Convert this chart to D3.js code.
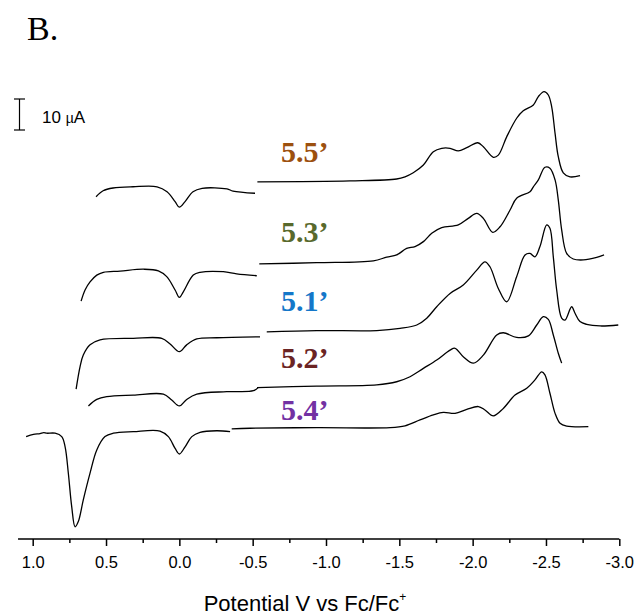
<!DOCTYPE html>
<html>
<head>
<meta charset="utf-8">
<script src="https://cdn.jsdelivr.net/npm/d3@7/dist/d3.min.js"></script>
<style>
  html, body { margin: 0; padding: 0; background: #fff; }
  svg { display: block; }
</style>
</head>
<body>
<svg id="chart" width="637" height="616"></svg>
<script>
// Differential pulse voltammograms, potential (V vs Fc/Fc+) against current (µA).
// Each trace is recorded as two scans: anodic side (left) and cathodic side (right).

const compounds = ["5.5’", "5.3’", "5.1’", "5.2’", "5.4’"];
const labelColors = ["#9c500f", "#58692c", "#1477c9", "#6b2424", "#7331a3"];
// vertical stacking offset of each trace, µA
const offsets = [122.5, 96, 74, 56, 42.5];

const majorTicks = [1.0, 0.5, 0.0, -0.5, -1.0, -1.5, -2.0, -2.5, -3.0];
const majorTickLabels = ["1.0", "0.5", "0.0", "-0.5", "-1.0", "-1.5", "-2.0", "-2.5", "-3.0"];
const minorTicks = [0.75, 0.25, -0.25, -0.75, -1.25, -1.75, -2.25, -2.75];
const scaleBarValue = 10; // µA

// [potential V, current µA] pairs
const t55Left = [[0.568,-5.3],[0.520,-3.4],[0.452,-2.5],[0.316,-2.1],[0.152,-2.1],[0.084,-3.7],[0.029,-6.9],[0.0,-8.7],[-0.039,-6.9],[-0.093,-3.7],[-0.155,-2.6],[-0.325,-2.8],[-0.366,-3.5],[-0.516,-4.2]];
const t55Right = [[-0.532,-0.5],[-1.164,-0.2],[-1.482,0.4],[-1.539,1.1],[-1.595,2.4],[-1.664,4.9],[-1.732,9.2],[-1.789,10.3],[-1.846,10.3],[-1.902,9.5],[-1.960,10.5],[-2.035,12.1],[-2.073,10.8],[-2.141,7.4],[-2.175,8.1],[-2.232,14.0],[-2.300,20.0],[-2.345,22.4],[-2.414,24.3],[-2.448,27.0],[-2.487,28.6],[-2.516,27.5],[-2.539,23.7],[-2.562,15.1],[-2.584,7.6],[-2.618,2.4],[-2.664,1.1],[-2.732,1.5]];

const t53Left = [[0.670,-12.5],[0.643,-8.9],[0.609,-6.3],[0.563,-4.1],[0.518,-3.2],[0.404,-2.8],[0.245,-2.2],[0.143,-2.7],[0.086,-4.6],[0.029,-8.9],[0.0,-11.3],[-0.027,-9.5],[-0.095,-4.1],[-0.141,-3.2],[-0.300,-3.0],[-0.391,-3.7],[-0.528,-4.3]];
const t53Right = [[-0.545,-0.5],[-0.937,-0.1],[-1.323,0.5],[-1.414,1.7],[-1.482,2.4],[-1.550,4.5],[-1.607,5.1],[-1.664,6.7],[-1.721,9.4],[-1.789,11.2],[-1.902,12.1],[-1.970,14.2],[-2.028,15.8],[-2.073,14.2],[-2.137,9.7],[-2.187,11.5],[-2.255,16.9],[-2.300,20.7],[-2.391,22.8],[-2.414,24.4],[-2.448,26.6],[-2.493,30.7],[-2.527,30.4],[-2.562,26.6],[-2.584,20.1],[-2.607,10.5],[-2.641,2.9],[-2.686,1.1],[-2.755,0.8],[-2.846,1.6],[-2.896,2.4]];

const t51Left = [[0.704,-18.9],[0.677,-11.6],[0.655,-7.9],[0.609,-4.6],[0.541,-3.0],[0.314,-2.5],[0.120,-2.5],[0.063,-4.3],[0.0,-6.8],[-0.050,-4.6],[-0.119,-2.7],[-0.255,-2.3],[-0.550,-2.0]];
const t51Right = [[-0.596,-0.4],[-0.937,0.0],[-1.346,0.0],[-1.505,0.7],[-1.619,1.8],[-1.687,4.0],[-1.755,7.7],[-1.846,12.0],[-1.936,14.7],[-2.028,19.5],[-2.084,22.2],[-2.118,20.6],[-2.175,13.6],[-2.232,9.3],[-2.300,17.4],[-2.357,24.4],[-2.391,24.9],[-2.425,23.8],[-2.459,27.1],[-2.505,34.1],[-2.527,33.0],[-2.550,23.8],[-2.573,13.1],[-2.607,4.0],[-2.630,3.4],[-2.675,7.7],[-2.698,5.6],[-2.732,2.9],[-2.778,2.0],[-2.869,1.5],[-2.993,1.8]];

const t52Left = [[0.620,-6.3],[0.563,-4.2],[0.495,-3.3],[0.314,-2.8],[0.109,-2.5],[0.052,-4.4],[0.0,-6.3],[-0.050,-4.2],[-0.119,-2.5],[-0.323,-1.7],[-0.505,-1.4],[-0.539,-0.3]];
const t52Right = [[-0.530,-0.4],[-0.937,0.1],[-1.346,0.5],[-1.482,1.5],[-1.573,3.1],[-1.664,5.8],[-1.755,8.5],[-1.846,11.7],[-1.880,12.3],[-1.936,9.6],[-2.005,7.5],[-2.073,10.1],[-2.164,16.6],[-2.209,17.3],[-2.300,15.8],[-2.380,16.3],[-2.437,19.8],[-2.482,22.5],[-2.516,21.6],[-2.550,16.6],[-2.584,10.7],[-2.607,7.5]];

const t54Left = [[1.045,-2.7],[0.995,-2.0],[0.950,-1.7],[0.925,-1.4],[0.904,-1.6],[0.847,-1.6],[0.802,-2.7],[0.779,-6.0],[0.757,-14.5],[0.734,-25.3],[0.711,-31.8],[0.689,-30.1],[0.655,-23.1],[0.609,-14.5],[0.563,-7.0],[0.507,-2.7],[0.450,-1.6],[0.314,-1.1],[0.132,-0.9],[0.075,-2.7],[0.029,-6.5],[0.0,-8.3],[-0.039,-6.0],[-0.085,-2.7],[-0.141,-1.3],[-0.255,-0.8],[-0.346,-1.1]];
const t54Right = [[-0.357,-0.2],[-0.482,0.0],[-0.937,0.2],[-1.437,0.2],[-1.539,0.8],[-1.641,2.7],[-1.732,4.3],[-1.800,5.1],[-1.880,4.8],[-1.960,6.1],[-2.039,7.0],[-2.084,5.9],[-2.141,4.0],[-2.209,6.4],[-2.289,10.7],[-2.369,12.9],[-2.425,15.6],[-2.471,18.2],[-2.493,17.2],[-2.527,11.3],[-2.562,4.8],[-2.596,1.6],[-2.641,0.7],[-2.789,0.5]];

const traces = [
  [t55Left, t55Right],
  [t53Left, t53Right],
  [t51Left, t51Right],
  [t52Left, t52Right],
  [t54Left, t54Right]
];

const svg = d3.select("#chart");

const x = d3.scaleLinear().domain([1.0, -3.0]).range([32.7, 619.3]);
const y = d3.scaleLinear().domain([0, 150]).range([560, 95]);
const axisY = 539;

// traces
const line = d3.line()
  .x(d => x(d[0]))
  .y(d => y(d[1]))
  .curve(d3.curveCatmullRom.alpha(0.5));

const traceGroup = svg.append("g").attr("class", "traces");
traces.forEach((segments, i) => {
  segments.forEach(seg => {
    traceGroup.append("path")
      .datum(seg.map(p => [p[0], p[1] + offsets[i]]))
      .attr("d", line)
      .attr("fill", "none")
      .attr("stroke", "#000")
      .attr("stroke-width", 1.3)
      .attr("stroke-linejoin", "round");
  });
});

// compound labels
const labelBaselines = [161.7, 241.7, 310.7, 368.3, 420];
svg.append("g").selectAll("text")
  .data(compounds)
  .join("text")
  .attr("x", 281)
  .attr("y", (d, i) => labelBaselines[i])
  .attr("fill", (d, i) => labelColors[i])
  .attr("font-family", "'Liberation Serif', 'Times New Roman', serif")
  .attr("font-weight", "bold")
  .attr("font-size", 30)
  .text(d => d);

// x axis
const axisG = svg.append("g").attr("transform", `translate(0,${axisY})`);
axisG.append("line")
  .attr("x1", x(1.1)).attr("x2", x(-3.0))
  .attr("stroke", "#000").attr("stroke-width", 1.5);

const majorAxis = d3.axisBottom(x)
  .tickValues(majorTicks)
  .tickFormat((d, i) => majorTickLabels[i])
  .tickSize(7)
  .tickSizeOuter(0)
  .tickPadding(10);
const gMajor = axisG.append("g").call(majorAxis);
gMajor.select(".domain").remove();
gMajor.selectAll(".tick line").attr("stroke-width", 1.5);
gMajor.selectAll(".tick text")
  .attr("font-family", "'Liberation Sans', Arial, sans-serif")
  .attr("font-size", 16.5)
  .attr("fill", "#000");

const minorAxis = d3.axisBottom(x)
  .tickValues(minorTicks)
  .tickFormat("")
  .tickSize(4)
  .tickSizeOuter(0);
const gMinor = axisG.append("g").call(minorAxis);
gMinor.select(".domain").remove();
gMinor.selectAll(".tick line").attr("stroke-width", 1.5);

// axis title
const title = svg.append("text")
  .attr("x", 305)
  .attr("y", 611)
  .attr("text-anchor", "middle")
  .attr("font-family", "'Liberation Sans', Arial, sans-serif")
  .attr("font-size", 22)
  .attr("fill", "#000");
title.append("tspan").text("Potential V vs Fc/Fc");
title.append("tspan").attr("dy", -10).attr("font-size", 12).text("+");

// panel letter
svg.append("text")
  .attr("x", 27).attr("y", 40)
  .attr("font-family", "'Liberation Serif', 'Times New Roman', serif")
  .attr("font-size", 34)
  .attr("fill", "#000")
  .text("B.");

// current scale bar
const barX = 19.5, barBottom = 130;
const barLen = y(0) - y(scaleBarValue);
const bar = svg.append("g").attr("stroke", "#000").attr("stroke-width", 1.2);
bar.append("line").attr("x1", barX).attr("x2", barX).attr("y1", barBottom).attr("y2", barBottom - barLen);
bar.append("line").attr("x1", barX - 5.5).attr("x2", barX + 5.5).attr("y1", barBottom).attr("y2", barBottom);
bar.append("line").attr("x1", barX - 5.5).attr("x2", barX + 5.5).attr("y1", barBottom - barLen).attr("y2", barBottom - barLen);
const scaleText = svg.append("text")
  .attr("x", 42).attr("y", 123)
  .attr("font-family", "'Liberation Sans', Arial, sans-serif")
  .attr("font-size", 17)
  .attr("fill", "#000");
scaleText.append("tspan").text("10 ");
scaleText.append("tspan").attr("font-size", 14).text("µ");
scaleText.append("tspan").text("A");
</script>
</body>
</html>
